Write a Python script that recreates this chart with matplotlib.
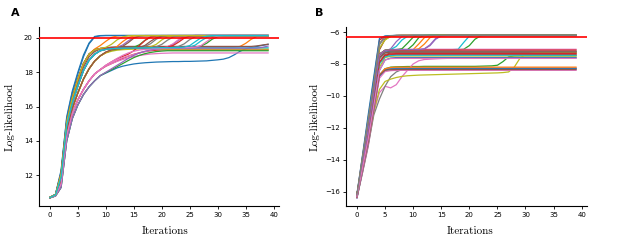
import matplotlib
matplotlib.use('Agg')
import matplotlib.pyplot as plt

iterations = list(range(40))
ref_ll_a = 20.0
ref_ll_b = -6.3
xticks = [0, 5, 10, 15, 20, 25, 30, 35, 40]
yticks_a = [12, 14, 16, 18, 20]
yticks_b = [-16, -14, -12, -10, -8, -6]
panel_labels = ['A', 'B']
xlabel_text = 'Iterations'
ylabel_text = 'Log-likelihood'

# Panel A: log-likelihood per iteration, one list per run
runs_a = [
 [10.69,10.80,11.30,14.00,15.30,16.10,16.70,17.15,17.50,17.80,
  17.95,18.10,18.25,18.35,18.42,18.48,18.52,18.55,18.57,18.59,
  18.60,18.61,18.62,18.62,18.63,18.63,18.64,18.65,18.66,18.69,
  18.72,18.76,18.85,19.02,19.22,19.36,19.44,19.50,19.56,19.62],
 [10.70,10.84,11.70,14.60,15.90,16.80,17.60,18.20,18.65,18.95,
  19.15,19.27,19.34,19.38,19.40,19.41,19.42,19.43,19.43,19.44,
  19.44,19.44,19.44,19.44,19.44,19.44,19.44,19.44,19.44,19.44,
  19.44,19.44,19.44,19.45,19.50,19.68,19.92,20.08,20.12,20.13],
 [10.72,10.88,12.10,15.10,16.50,17.60,18.50,19.05,19.30,19.38,
  19.40,19.41,19.41,19.42,19.42,19.42,19.43,19.43,19.43,19.43,
  19.44,19.44,19.44,19.44,19.44,19.45,19.46,19.52,19.68,19.92,
  20.07,20.12,20.13,20.13,20.13,20.13,20.13,20.13,20.13,20.13],
 [10.70,10.82,11.50,14.30,15.60,16.40,17.00,17.50,17.90,18.15,
  18.35,18.50,18.65,18.80,18.93,19.04,19.13,19.20,19.25,19.28,
  19.30,19.30,19.30,19.30,19.30,19.30,19.30,19.30,19.30,19.30,
  19.30,19.30,19.30,19.30,19.30,19.30,19.30,19.30,19.30,19.30],
 [10.71,10.86,11.90,14.90,16.20,17.20,18.10,18.70,19.05,19.25,
  19.33,19.37,19.39,19.40,19.41,19.41,19.42,19.42,19.43,19.43,
  19.44,19.48,19.62,19.86,20.04,20.12,20.14,20.14,20.14,20.14,
  20.14,20.14,20.14,20.14,20.14,20.14,20.14,20.14,20.14,20.14],
 [10.71,10.87,12.00,15.00,16.40,17.40,18.30,18.90,19.20,19.35,
  19.42,19.46,19.48,19.49,19.50,19.50,19.50,19.50,19.50,19.50,
  19.50,19.50,19.50,19.50,19.50,19.50,19.50,19.50,19.50,19.50,
  19.50,19.50,19.50,19.50,19.50,19.50,19.50,19.53,19.58,19.63],
 [10.70,10.82,11.50,14.30,15.60,16.40,17.00,17.50,17.90,18.15,
  18.35,18.50,18.63,18.74,18.83,18.91,18.97,19.02,19.06,19.08,
  19.10,19.11,19.12,19.12,19.12,19.12,19.12,19.12,19.12,19.12,
  19.12,19.12,19.12,19.12,19.12,19.12,19.12,19.12,19.12,19.12],
 [10.71,10.86,11.90,14.90,16.20,17.20,18.10,18.70,19.05,19.25,
  19.33,19.37,19.39,19.40,19.40,19.41,19.41,19.42,19.42,19.42,
  19.43,19.43,19.44,19.50,19.65,19.90,20.06,20.12,20.13,20.13,
  20.13,20.13,20.13,20.13,20.13,20.13,20.13,20.13,20.13,20.13],
 [10.70,10.84,11.70,14.60,15.90,16.80,17.60,18.20,18.65,18.95,
  19.12,19.22,19.28,19.31,19.33,19.34,19.35,19.35,19.35,19.35,
  19.35,19.35,19.35,19.35,19.35,19.35,19.35,19.35,19.35,19.35,
  19.35,19.35,19.35,19.35,19.35,19.35,19.35,19.35,19.35,19.35],
 [10.72,10.88,12.10,15.10,16.50,17.60,18.50,19.05,19.30,19.38,
  19.40,19.41,19.42,19.42,19.42,19.42,19.42,19.42,19.42,19.42,
  19.42,19.42,19.42,19.42,19.42,19.42,19.42,19.42,19.42,19.42,
  19.42,19.42,19.42,19.42,19.42,19.42,19.42,19.42,19.42,19.42],
 [10.72,10.90,12.30,15.30,16.80,17.90,18.90,19.65,20.05,20.12,
  20.13,20.13,20.13,20.13,20.13,20.13,20.13,20.13,20.13,20.13,
  20.13,20.13,20.13,20.13,20.13,20.13,20.13,20.13,20.13,20.13,
  20.13,20.13,20.13,20.13,20.13,20.13,20.13,20.13,20.13,20.13],
 [10.72,10.88,12.10,15.10,16.50,17.60,18.50,19.05,19.35,19.55,
  19.80,20.02,20.11,20.13,20.13,20.13,20.13,20.13,20.13,20.13,
  20.13,20.13,20.13,20.13,20.13,20.13,20.13,20.13,20.13,20.13,
  20.13,20.13,20.13,20.13,20.13,20.13,20.13,20.13,20.13,20.13],
 [10.70,10.84,11.70,14.60,15.90,16.80,17.60,18.20,18.65,18.95,
  19.15,19.27,19.34,19.38,19.40,19.45,19.60,19.86,20.05,20.12,
  20.13,20.13,20.13,20.13,20.13,20.13,20.13,20.13,20.13,20.13,
  20.13,20.13,20.13,20.13,20.13,20.13,20.13,20.13,20.13,20.13],
 [10.70,10.82,11.50,14.30,15.60,16.40,17.00,17.50,17.90,18.15,
  18.40,18.60,18.78,18.92,19.05,19.25,19.55,19.85,20.05,20.12,
  20.13,20.13,20.13,20.13,20.13,20.13,20.13,20.13,20.13,20.13,
  20.13,20.13,20.13,20.13,20.13,20.13,20.13,20.13,20.13,20.13],
 [10.71,10.86,11.90,14.90,16.20,17.20,18.10,18.70,19.05,19.25,
  19.35,19.40,19.45,19.58,19.82,20.02,20.11,20.13,20.13,20.13,
  20.13,20.13,20.13,20.13,20.13,20.13,20.13,20.13,20.13,20.13,
  20.13,20.13,20.13,20.13,20.13,20.13,20.13,20.13,20.13,20.13],
 [10.72,10.88,12.10,15.10,16.50,17.60,18.50,19.05,19.30,19.38,
  19.40,19.41,19.42,19.50,19.72,19.98,20.10,20.13,20.13,20.13,
  20.13,20.13,20.13,20.13,20.13,20.13,20.13,20.13,20.13,20.13,
  20.13,20.13,20.13,20.13,20.13,20.13,20.13,20.13,20.13,20.13],
 [10.70,10.82,11.50,14.30,15.60,16.40,17.00,17.50,17.90,18.15,
  18.40,18.58,18.72,18.84,18.94,19.03,19.12,19.20,19.28,19.34,
  19.40,19.48,19.65,19.90,20.06,20.12,20.13,20.13,20.13,20.13,
  20.13,20.13,20.13,20.13,20.13,20.13,20.13,20.13,20.13,20.13],
 [10.71,10.86,11.90,14.90,16.20,17.20,18.10,18.70,19.05,19.25,
  19.33,19.37,19.39,19.40,19.41,19.42,19.43,19.50,19.66,19.92,
  20.08,20.12,20.13,20.13,20.13,20.13,20.13,20.13,20.13,20.13,
  20.13,20.13,20.13,20.13,20.13,20.13,20.13,20.13,20.13,20.13],
 [10.70,10.84,11.70,14.60,15.90,16.80,17.60,18.20,18.65,18.95,
  19.15,19.27,19.34,19.38,19.40,19.41,19.42,19.43,19.48,19.62,
  19.88,20.05,20.12,20.13,20.13,20.13,20.13,20.13,20.13,20.13,
  20.13,20.13,20.13,20.13,20.13,20.13,20.13,20.13,20.13,20.13],
 [10.71,10.86,11.90,14.90,16.20,17.20,18.10,18.70,19.05,19.25,
  19.33,19.37,19.39,19.40,19.40,19.41,19.41,19.42,19.42,19.42,
  19.42,19.42,19.42,19.43,19.43,19.46,19.58,19.82,20.02,20.11,
  20.13,20.13,20.13,20.13,20.13,20.13,20.13,20.13,20.13,20.13],
 [10.71,10.89,12.20,15.40,16.90,18.00,19.00,19.70,20.08,20.13,
  20.14,20.14,20.14,20.14,20.14,20.14,20.14,20.14,20.14,20.14,
  20.14,20.14,20.14,20.14,20.14,20.14,20.14,20.14,20.14,20.14,
  20.14,20.14,20.14,20.14,20.14,20.14,20.14,20.14,20.14,20.14],
 [10.70,10.84,11.70,14.60,15.90,16.80,17.60,18.20,18.65,18.95,
  19.15,19.30,19.50,19.78,20.00,20.11,20.13,20.13,20.13,20.13,
  20.13,20.13,20.13,20.13,20.13,20.13,20.13,20.13,20.13,20.13,
  20.13,20.13,20.13,20.13,20.13,20.13,20.13,20.13,20.13,20.13],
 [10.69,10.80,11.30,14.00,15.30,16.10,16.70,17.15,17.50,17.80,
  17.98,18.15,18.32,18.50,18.68,18.85,18.98,19.08,19.15,19.20,
  19.23,19.25,19.25,19.25,19.25,19.25,19.25,19.25,19.25,19.25,
  19.25,19.25,19.25,19.25,19.25,19.25,19.25,19.25,19.25,19.25],
 [10.72,10.88,12.10,15.10,16.50,17.60,18.50,19.05,19.30,19.38,
  19.40,19.41,19.41,19.42,19.42,19.43,19.43,19.43,19.44,19.44,
  19.44,19.46,19.55,19.75,19.98,20.10,20.13,20.13,20.13,20.13,
  20.13,20.13,20.13,20.13,20.13,20.13,20.13,20.13,20.13,20.13],
 [10.69,10.80,11.30,14.00,15.30,16.10,16.70,17.15,17.50,17.80,
  18.00,18.20,18.40,18.60,18.80,18.98,19.12,19.22,19.30,19.35,
  19.38,19.40,19.40,19.40,19.40,19.40,19.40,19.40,19.40,19.40,
  19.40,19.40,19.40,19.40,19.40,19.40,19.40,19.40,19.45,19.52],
 [10.70,10.84,11.70,14.60,15.90,16.80,17.60,18.20,18.65,18.95,
  19.18,19.30,19.35,19.38,19.40,19.41,19.44,19.56,19.80,20.00,
  20.10,20.13,20.13,20.13,20.13,20.13,20.13,20.13,20.13,20.13,
  20.13,20.13,20.13,20.13,20.13,20.13,20.13,20.13,20.13,20.13],
 [10.70,10.82,11.50,14.30,15.60,16.40,17.00,17.50,17.90,18.15,
  18.40,18.60,18.80,18.98,19.12,19.22,19.29,19.33,19.36,19.38,
  19.40,19.41,19.42,19.43,19.43,19.44,19.46,19.55,19.78,20.00,
  20.10,20.13,20.13,20.13,20.13,20.13,20.13,20.13,20.13,20.13],
 [10.71,10.86,11.90,14.90,16.20,17.20,18.10,18.70,19.05,19.25,
  19.33,19.37,19.39,19.40,19.41,19.41,19.42,19.42,19.43,19.48,
  19.62,19.86,20.04,20.12,20.13,20.13,20.13,20.13,20.13,20.13,
  20.13,20.13,20.13,20.13,20.13,20.13,20.13,20.13,20.13,20.13],
 [10.72,10.88,12.10,15.10,16.50,17.60,18.50,19.05,19.30,19.38,
  19.45,19.62,19.88,20.05,20.12,20.13,20.13,20.13,20.13,20.13,
  20.13,20.13,20.13,20.13,20.13,20.13,20.13,20.13,20.13,20.13,
  20.13,20.13,20.13,20.13,20.13,20.13,20.13,20.13,20.13,20.13],
 [10.71,10.86,11.90,14.90,16.20,17.20,18.10,18.70,19.05,19.25,
  19.33,19.37,19.39,19.40,19.40,19.41,19.41,19.42,19.42,19.42,
  19.43,19.43,19.43,19.44,19.46,19.55,19.78,20.00,20.10,20.13,
  20.13,20.13,20.13,20.13,20.13,20.13,20.13,20.13,20.13,20.13],
]

# Panel B: log-likelihood per iteration, one list per run
runs_b = [
 [-16.30,-14.30,-12.30,-10.00,-7.60,-7.25,-7.21,-7.20,-7.20,-7.20,
  -7.20,-7.20,-7.20,-7.20,-7.20,-7.20,-7.20,-7.20,-7.20,-7.20,
  -7.20,-7.20,-7.20,-7.20,-7.20,-7.20,-7.20,-7.20,-7.20,-7.20,
  -7.20,-7.20,-7.20,-7.20,-7.20,-7.20,-7.20,-7.20,-7.20,-7.20],
 [-16.25,-14.00,-11.80,-9.50,-7.10,-6.45,-6.26,-6.22,-6.21,-6.21,
  -6.21,-6.21,-6.21,-6.21,-6.21,-6.21,-6.21,-6.21,-6.21,-6.21,
  -6.21,-6.21,-6.21,-6.21,-6.21,-6.21,-6.21,-6.21,-6.21,-6.21,
  -6.21,-6.21,-6.21,-6.21,-6.21,-6.21,-6.21,-6.21,-6.21,-6.21],
 [-16.35,-14.60,-12.90,-10.80,-8.70,-8.30,-8.20,-8.18,-8.17,-8.16,
  -8.16,-8.16,-8.15,-8.15,-8.15,-8.15,-8.15,-8.15,-8.15,-8.15,
  -8.15,-8.15,-8.14,-8.13,-8.12,-8.08,-7.85,-7.55,-7.50,-7.49,
  -7.49,-7.49,-7.49,-7.49,-7.49,-7.49,-7.49,-7.49,-7.49,-7.49],
 [-16.20,-13.80,-11.40,-9.00,-6.50,-6.28,-6.23,-6.22,-6.21,-6.21,
  -6.21,-6.21,-6.21,-6.21,-6.21,-6.21,-6.21,-6.21,-6.21,-6.21,
  -6.21,-6.21,-6.21,-6.21,-6.21,-6.21,-6.21,-6.21,-6.21,-6.21,
  -6.21,-6.21,-6.21,-6.21,-6.21,-6.21,-6.21,-6.21,-6.21,-6.21],
 [-16.25,-14.20,-12.10,-9.80,-7.40,-7.15,-7.12,-7.11,-7.10,-7.10,
  -7.10,-7.10,-7.05,-6.80,-6.40,-6.24,-6.21,-6.21,-6.21,-6.21,
  -6.21,-6.21,-6.21,-6.21,-6.21,-6.21,-6.21,-6.21,-6.21,-6.21,
  -6.21,-6.21,-6.21,-6.21,-6.21,-6.21,-6.21,-6.21,-6.21,-6.21],
 [-16.20,-14.30,-12.40,-10.20,-7.90,-7.40,-7.32,-7.30,-7.30,-7.30,
  -7.30,-7.30,-7.30,-7.30,-7.30,-7.30,-7.30,-7.30,-7.30,-7.30,
  -7.30,-7.30,-7.30,-7.30,-7.30,-7.30,-7.30,-7.30,-7.30,-7.30,
  -7.30,-7.30,-7.30,-7.30,-7.30,-7.30,-7.30,-7.30,-7.30,-7.30],
 [-16.30,-14.80,-13.20,-11.00,-9.80,-9.40,-9.50,-9.30,-8.80,-8.40,
  -8.00,-7.80,-7.72,-7.70,-7.68,-7.66,-7.65,-7.64,-7.63,-7.62,
  -7.62,-7.62,-7.62,-7.62,-7.62,-7.62,-7.62,-7.62,-7.62,-7.62,
  -7.62,-7.62,-7.62,-7.62,-7.62,-7.62,-7.62,-7.62,-7.62,-7.62],
 [-16.40,-14.80,-13.10,-11.20,-10.20,-9.40,-8.80,-8.50,-8.35,-8.32,
  -8.30,-8.30,-8.30,-8.30,-8.30,-8.30,-8.30,-8.30,-8.30,-8.30,
  -8.30,-8.30,-8.30,-8.30,-8.30,-8.30,-8.30,-8.30,-8.30,-8.30,
  -8.30,-8.30,-8.30,-8.30,-8.30,-8.30,-8.30,-8.30,-8.30,-8.30],
 [-16.35,-14.70,-13.00,-11.00,-9.60,-9.10,-8.95,-8.85,-8.78,-8.74,
  -8.72,-8.70,-8.69,-8.68,-8.67,-8.66,-8.65,-8.64,-8.63,-8.62,
  -8.61,-8.60,-8.59,-8.58,-8.57,-8.56,-8.54,-8.50,-8.20,-7.65,
  -7.40,-7.32,-7.30,-7.30,-7.30,-7.30,-7.30,-7.30,-7.30,-7.30],
 [-16.25,-14.20,-12.10,-9.80,-7.40,-7.15,-7.12,-7.11,-7.10,-7.10,
  -7.10,-7.10,-7.10,-7.10,-7.10,-7.10,-7.10,-7.10,-7.08,-6.65,
  -6.25,-6.21,-6.21,-6.21,-6.21,-6.21,-6.21,-6.21,-6.21,-6.21,
  -6.21,-6.21,-6.21,-6.21,-6.21,-6.21,-6.21,-6.21,-6.21,-6.21],
 [-16.15,-13.70,-11.20,-8.80,-6.40,-6.24,-6.22,-6.21,-6.21,-6.21,
  -6.21,-6.21,-6.21,-6.21,-6.21,-6.21,-6.21,-6.21,-6.21,-6.21,
  -6.21,-6.21,-6.21,-6.21,-6.21,-6.21,-6.21,-6.21,-6.21,-6.21,
  -6.21,-6.21,-6.21,-6.21,-6.21,-6.21,-6.21,-6.21,-6.21,-6.21],
 [-16.25,-14.20,-12.10,-9.80,-7.40,-7.15,-7.12,-7.11,-7.10,-7.10,
  -7.10,-6.75,-6.35,-6.23,-6.21,-6.21,-6.21,-6.21,-6.21,-6.21,
  -6.21,-6.21,-6.21,-6.21,-6.21,-6.21,-6.21,-6.21,-6.21,-6.21,
  -6.21,-6.21,-6.21,-6.21,-6.21,-6.21,-6.21,-6.21,-6.21,-6.21],
 [-16.25,-14.20,-12.10,-9.80,-7.40,-7.15,-7.12,-7.11,-7.10,-7.10,
  -7.10,-7.10,-7.10,-7.10,-7.10,-7.10,-7.10,-7.10,-7.10,-7.08,
  -6.85,-6.45,-6.24,-6.21,-6.21,-6.21,-6.21,-6.21,-6.21,-6.21,
  -6.21,-6.21,-6.21,-6.21,-6.21,-6.21,-6.21,-6.21,-6.21,-6.21],
 [-16.20,-14.30,-12.40,-10.20,-7.90,-7.50,-7.42,-7.40,-7.40,-7.40,
  -7.40,-7.40,-7.40,-7.40,-7.40,-7.40,-7.40,-7.40,-7.40,-7.40,
  -7.40,-7.40,-7.40,-7.40,-7.40,-7.40,-7.40,-7.40,-7.40,-7.40,
  -7.40,-7.40,-7.40,-7.40,-7.40,-7.40,-7.40,-7.40,-7.40,-7.40],
 [-16.35,-14.60,-12.90,-10.80,-8.70,-8.32,-8.26,-8.25,-8.25,-8.25,
  -8.25,-8.25,-8.25,-8.25,-8.25,-8.25,-8.25,-8.25,-8.25,-8.25,
  -8.25,-8.25,-8.25,-8.25,-8.25,-8.25,-8.25,-8.25,-8.25,-8.25,
  -8.25,-8.25,-8.25,-8.25,-8.25,-8.25,-8.25,-8.25,-8.25,-8.25],
 [-16.25,-14.00,-11.80,-9.50,-7.10,-6.45,-6.26,-6.22,-6.21,-6.21,
  -6.21,-6.21,-6.21,-6.21,-6.21,-6.21,-6.21,-6.21,-6.21,-6.21,
  -6.21,-6.21,-6.21,-6.21,-6.21,-6.21,-6.21,-6.21,-6.21,-6.21,
  -6.21,-6.21,-6.21,-6.21,-6.21,-6.21,-6.21,-6.21,-6.21,-6.21],
 [-16.25,-14.20,-12.10,-9.80,-7.40,-7.12,-7.09,-7.08,-7.08,-7.08,
  -7.08,-7.08,-7.08,-7.08,-7.08,-7.08,-7.08,-7.08,-7.08,-7.08,
  -7.08,-7.08,-7.08,-7.08,-7.08,-7.08,-7.08,-7.08,-7.08,-7.08,
  -7.08,-7.08,-7.08,-7.08,-7.08,-7.08,-7.08,-7.08,-7.08,-7.08],
 [-16.25,-14.30,-12.30,-10.10,-7.70,-7.30,-7.24,-7.22,-7.22,-7.22,
  -7.22,-7.22,-7.22,-7.22,-7.22,-7.22,-7.22,-7.22,-7.22,-7.22,
  -7.22,-7.22,-7.22,-7.22,-7.22,-7.22,-7.22,-7.22,-7.22,-7.22,
  -7.22,-7.22,-7.22,-7.22,-7.22,-7.22,-7.22,-7.22,-7.22,-7.22],
 [-16.20,-14.40,-12.60,-10.40,-8.20,-7.60,-7.52,-7.50,-7.50,-7.50,
  -7.50,-7.50,-7.50,-7.50,-7.50,-7.50,-7.50,-7.50,-7.50,-7.50,
  -7.50,-7.50,-7.50,-7.50,-7.50,-7.50,-7.50,-7.50,-7.50,-7.50,
  -7.50,-7.50,-7.50,-7.50,-7.50,-7.50,-7.50,-7.50,-7.50,-7.50],
 [-16.30,-14.40,-12.50,-10.30,-8.00,-7.55,-7.47,-7.45,-7.45,-7.45,
  -7.45,-7.45,-7.45,-7.45,-7.45,-7.45,-7.45,-7.45,-7.45,-7.45,
  -7.45,-7.45,-7.45,-7.45,-7.45,-7.45,-7.45,-7.45,-7.45,-7.45,
  -7.45,-7.45,-7.45,-7.45,-7.45,-7.45,-7.45,-7.45,-7.45,-7.45],
 [-16.40,-14.70,-13.00,-10.90,-8.80,-8.38,-8.31,-8.30,-8.30,-8.30,
  -8.30,-8.30,-8.30,-8.30,-8.30,-8.30,-8.30,-8.30,-8.30,-8.30,
  -8.30,-8.30,-8.30,-8.30,-8.30,-8.30,-8.30,-8.30,-8.30,-8.30,
  -8.30,-8.30,-8.30,-8.30,-8.30,-8.30,-8.30,-8.30,-8.30,-8.30],
 [-16.35,-14.60,-12.90,-10.80,-8.70,-8.30,-8.22,-8.20,-8.20,-8.20,
  -8.20,-8.20,-8.20,-8.20,-8.20,-8.20,-8.20,-8.20,-8.20,-8.20,
  -8.20,-8.20,-8.20,-8.20,-8.20,-8.20,-8.20,-8.20,-8.20,-8.20,
  -8.20,-8.20,-8.20,-8.20,-8.20,-8.20,-8.20,-8.20,-8.20,-8.20],
 [-16.25,-14.20,-12.10,-9.80,-7.40,-7.15,-7.12,-7.10,-7.05,-6.70,
  -6.32,-6.22,-6.21,-6.21,-6.21,-6.21,-6.21,-6.21,-6.21,-6.21,
  -6.21,-6.21,-6.21,-6.21,-6.21,-6.21,-6.21,-6.21,-6.21,-6.21,
  -6.21,-6.21,-6.21,-6.21,-6.21,-6.21,-6.21,-6.21,-6.21,-6.21],
 [-16.20,-14.30,-12.40,-10.20,-7.90,-7.45,-7.37,-7.35,-7.35,-7.35,
  -7.35,-7.35,-7.35,-7.35,-7.35,-7.35,-7.35,-7.35,-7.35,-7.35,
  -7.35,-7.35,-7.35,-7.35,-7.35,-7.35,-7.35,-7.35,-7.35,-7.35,
  -7.35,-7.35,-7.35,-7.35,-7.35,-7.35,-7.35,-7.35,-7.35,-7.35],
 [-16.30,-14.20,-12.00,-9.70,-7.50,-7.20,-7.05,-6.60,-6.28,-6.22,
  -6.21,-6.21,-6.21,-6.21,-6.21,-6.21,-6.21,-6.21,-6.21,-6.21,
  -6.21,-6.21,-6.21,-6.21,-6.21,-6.21,-6.21,-6.21,-6.21,-6.21,
  -6.21,-6.21,-6.21,-6.21,-6.21,-6.21,-6.21,-6.21,-6.21,-6.21],
 [-16.25,-14.30,-12.30,-10.00,-7.60,-7.30,-7.26,-7.25,-7.25,-7.25,
  -7.25,-7.25,-7.25,-7.25,-7.25,-7.25,-7.25,-7.25,-7.25,-7.25,
  -7.25,-7.25,-7.25,-7.25,-7.25,-7.25,-7.25,-7.25,-7.25,-7.25,
  -7.25,-7.25,-7.25,-7.25,-7.25,-7.25,-7.25,-7.25,-7.25,-7.25],
 [-16.40,-14.70,-13.00,-10.90,-8.90,-8.48,-8.42,-8.40,-8.40,-8.40,
  -8.40,-8.40,-8.40,-8.40,-8.40,-8.40,-8.40,-8.40,-8.40,-8.40,
  -8.40,-8.40,-8.40,-8.40,-8.40,-8.40,-8.40,-8.40,-8.40,-8.40,
  -8.40,-8.40,-8.40,-8.40,-8.40,-8.40,-8.40,-8.40,-8.40,-8.40],
 [-16.20,-13.80,-11.50,-9.20,-6.70,-6.30,-6.23,-6.21,-6.21,-6.21,
  -6.21,-6.21,-6.21,-6.21,-6.21,-6.21,-6.21,-6.21,-6.21,-6.21,
  -6.21,-6.21,-6.21,-6.21,-6.21,-6.21,-6.21,-6.21,-6.21,-6.21,
  -6.21,-6.21,-6.21,-6.21,-6.21,-6.21,-6.21,-6.21,-6.21,-6.21],
 [-16.25,-14.00,-11.70,-9.40,-7.00,-6.50,-6.27,-6.22,-6.21,-6.21,
  -6.21,-6.21,-6.21,-6.21,-6.21,-6.21,-6.21,-6.21,-6.21,-6.21,
  -6.21,-6.21,-6.21,-6.21,-6.21,-6.21,-6.21,-6.21,-6.21,-6.21,
  -6.21,-6.21,-6.21,-6.21,-6.21,-6.21,-6.21,-6.21,-6.21,-6.21],
 [-16.25,-14.20,-12.10,-9.80,-7.40,-7.20,-7.10,-6.90,-6.50,-6.26,
  -6.21,-6.21,-6.21,-6.21,-6.21,-6.21,-6.21,-6.21,-6.21,-6.21,
  -6.21,-6.21,-6.21,-6.21,-6.21,-6.21,-6.21,-6.21,-6.21,-6.21,
  -6.21,-6.21,-6.21,-6.21,-6.21,-6.21,-6.21,-6.21,-6.21,-6.21],
 [-16.30,-14.50,-12.70,-10.60,-8.40,-7.75,-7.63,-7.60,-7.60,-7.60,
  -7.60,-7.60,-7.60,-7.60,-7.60,-7.60,-7.60,-7.60,-7.60,-7.60,
  -7.60,-7.60,-7.60,-7.60,-7.60,-7.60,-7.60,-7.60,-7.60,-7.60,
  -7.60,-7.60,-7.60,-7.60,-7.60,-7.60,-7.60,-7.60,-7.60,-7.60],
 [-16.25,-14.20,-12.10,-9.80,-7.40,-7.15,-7.12,-7.11,-7.10,-7.10,
  -7.12,-7.05,-6.75,-6.35,-6.22,-6.21,-6.21,-6.21,-6.21,-6.21,
  -6.21,-6.21,-6.21,-6.21,-6.21,-6.21,-6.21,-6.21,-6.21,-6.21,
  -6.21,-6.21,-6.21,-6.21,-6.21,-6.21,-6.21,-6.21,-6.21,-6.21],
 [-16.25,-14.20,-12.10,-9.80,-7.40,-7.15,-7.12,-7.11,-7.10,-7.10,
  -6.80,-6.35,-6.22,-6.21,-6.21,-6.21,-6.21,-6.21,-6.21,-6.21,
  -6.21,-6.21,-6.21,-6.21,-6.21,-6.21,-6.21,-6.21,-6.21,-6.21,
  -6.21,-6.21,-6.21,-6.21,-6.21,-6.21,-6.21,-6.21,-6.21,-6.21],
 [-16.25,-14.20,-12.10,-9.80,-7.40,-7.17,-7.14,-7.13,-7.13,-7.13,
  -7.13,-7.13,-7.13,-7.13,-7.13,-7.13,-7.13,-7.13,-7.13,-7.13,
  -7.13,-7.13,-7.13,-7.13,-7.13,-7.13,-7.13,-7.13,-7.13,-7.13,
  -7.13,-7.13,-7.13,-7.13,-7.13,-7.13,-7.13,-7.13,-7.13,-7.13],
 [-16.25,-14.20,-12.10,-9.80,-7.40,-7.15,-7.12,-7.11,-7.10,-7.10,
  -7.10,-7.10,-7.06,-6.85,-6.45,-6.24,-6.21,-6.21,-6.21,-6.21,
  -6.21,-6.21,-6.21,-6.21,-6.21,-6.21,-6.21,-6.21,-6.21,-6.21,
  -6.21,-6.21,-6.21,-6.21,-6.21,-6.21,-6.21,-6.21,-6.21,-6.21],
 [-16.35,-14.60,-12.90,-10.80,-8.70,-8.40,-8.36,-8.35,-8.35,-8.35,
  -8.35,-8.35,-8.35,-8.35,-8.35,-8.35,-8.35,-8.35,-8.35,-8.35,
  -8.35,-8.35,-8.35,-8.35,-8.35,-8.35,-8.35,-8.35,-8.35,-8.35,
  -8.35,-8.35,-8.35,-8.35,-8.35,-8.35,-8.35,-8.35,-8.35,-8.35],
 [-16.30,-14.50,-12.70,-10.60,-8.40,-7.75,-7.66,-7.65,-7.65,-7.65,
  -7.65,-7.65,-7.65,-7.65,-7.65,-7.65,-7.65,-7.65,-7.65,-7.65,
  -7.65,-7.65,-7.65,-7.65,-7.65,-7.65,-7.65,-7.65,-7.65,-7.65,
  -7.65,-7.65,-7.65,-7.65,-7.65,-7.65,-7.65,-7.65,-7.65,-7.65],
 [-16.20,-13.90,-11.60,-9.30,-6.80,-6.32,-6.23,-6.21,-6.21,-6.21,
  -6.21,-6.21,-6.21,-6.21,-6.21,-6.21,-6.21,-6.21,-6.21,-6.21,
  -6.21,-6.21,-6.21,-6.21,-6.21,-6.21,-6.21,-6.21,-6.21,-6.21,
  -6.21,-6.21,-6.21,-6.21,-6.21,-6.21,-6.21,-6.21,-6.21,-6.21],
]

fig = plt.figure(figsize=(6.18, 2.45), dpi=100)
W, H = 618.0, 245.0
ax_a = fig.add_axes([39/W, 1-206/H, (279-39)/W, (206-27.3)/H])
ax_b = fig.add_axes([346/W, 1-206/H, (587-346)/W, (206-27.3)/H])

panels = [
    (ax_a, runs_a, ref_ll_a, yticks_a, 0.524, -0.10, 11),
    (ax_b, runs_b, ref_ll_b, yticks_b, 0.513, -0.108, 315),
]
for k, (ax, runs, ref, yt, xlx, ylx, letter_x) in enumerate(panels):
    for run in runs:
        ax.plot(iterations, run, lw=0.9)
    ax.axhline(ref, color='red', lw=1.2, zorder=5)
    ax.spines['top'].set_visible(False)
    ax.spines['right'].set_visible(False)
    for s in ('left', 'bottom'):
        ax.spines[s].set_linewidth(0.8)
    ax.set_xticks(xticks)
    ax.set_yticks(yt)
    ax.tick_params(labelsize=5, length=2.5, width=0.6, pad=2)
    ax.set_xlabel(xlabel_text, fontfamily='cmr10', fontsize=8)
    ax.set_ylabel(ylabel_text, fontfamily='cmr10', fontsize=8)
    ax.xaxis.set_label_coords(xlx, -0.115)
    ax.yaxis.set_label_coords(ylx, 0.5)
    fig.text(letter_x/W, 1-16.5/H, panel_labels[k], fontsize=8,
             fontweight='bold', va='baseline', ha='left')

fig.savefig('out.png', dpi=100)
